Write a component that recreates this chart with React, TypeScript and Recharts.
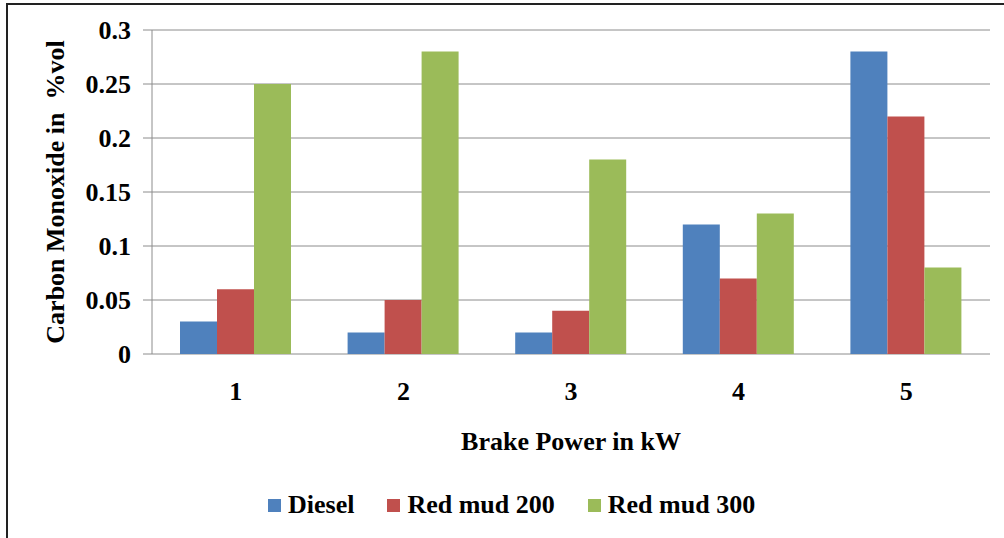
import { Bar, BarChart, CartesianGrid, Label, Legend, XAxis, YAxis } from "recharts";

const loads = ["1", "2", "3", "4", "5"];
const diesel = [0.03, 0.02, 0.02, 0.12, 0.28];
const redMud200 = [0.06, 0.05, 0.04, 0.07, 0.22];
const redMud300 = [0.25, 0.28, 0.18, 0.13, 0.08];
const yTicks = [0, 0.05, 0.1, 0.15, 0.2, 0.25, 0.3];
const edgeTicks = [0, 1, 2, 3, 4, 5];

const data = loads.map((kw, i) => ({
  kw,
  diesel: diesel[i],
  rm200: redMud200[i],
  rm300: redMud300[i],
}));

const series = [
  { dataKey: "diesel", name: "Diesel", color: "#4F81BD" },
  { dataKey: "rm200", name: "Red mud 200", color: "#C0504D" },
  { dataKey: "rm300", name: "Red mud 300", color: "#9BBB59" },
];

const FONT = "Liberation Serif, Times New Roman, DejaVu Serif, serif";
const GRID = "#8c8c8c";

function LegendItems() {
  return (
    <div style={{ display: "flex", alignItems: "center", height: 34, paddingLeft: 268 }}>
      {series.map((s) => (
        <div key={s.dataKey} style={{ display: "flex", alignItems: "center", marginRight: 33 }}>
          <span style={{ width: 13, height: 13, background: s.color, marginRight: 7, display: "inline-block" }} />
          <span style={{ fontFamily: FONT, fontWeight: "bold", fontSize: 26, color: "#000" }}>{s.name}</span>
        </div>
      ))}
    </div>
  );
}

export default function App() {
  return (
    <div style={{ position: "absolute", left: 0, top: 0, width: 1004, height: 538, background: "#fff", fontFamily: FONT }}>
      <div
        style={{
          position: "absolute",
          left: 6,
          top: 3,
          width: 998,
          height: 535,
          borderTop: "2px solid #222",
          borderLeft: "2px solid #222",
        }}
      />
      <BarChart
        width={1004}
        height={538}
        data={data}
        margin={{ top: 30, right: 14, left: 52, bottom: 50 }}
        barSize={37}
        barGap={0}
        style={{ position: "absolute", left: 0, top: 0, fontFamily: FONT }}
      >
        <CartesianGrid stroke={GRID} vertical={false} yAxisId="main" xAxisId="cat" />
        <XAxis
          xAxisId="edges"
          type="number"
          domain={[0, 5]}
          ticks={edgeTicks}
          tick={false}
          tickSize={9}
          height={0}
          axisLine={{ stroke: GRID }}
          tickLine={{ stroke: GRID }}
        />
        <XAxis
          xAxisId="cat"
          dataKey="kw"
          height={100}
          axisLine={false}
          tickLine={false}
          tickSize={8}
          tickMargin={20}
          tick={{ fill: "#000", fontSize: 26, fontWeight: "bold", fontFamily: FONT }}
        >
          <Label
            content={({ viewBox }: any) => (
              <text
                x={viewBox.x + viewBox.width / 2}
                y={viewBox.y + 96}
                textAnchor="middle"
                fontFamily={FONT}
                fontWeight="bold"
                fontSize={26}
                fill="#000"
              >
                Brake Power in kW
              </text>
            )}
          />
        </XAxis>
        <YAxis
          yAxisId="main"
          domain={[0, 0.3]}
          ticks={yTicks}
          width={100}
          tickSize={9}
          tickMargin={12}
          axisLine={{ stroke: GRID }}
          tickLine={{ stroke: GRID }}
          tickFormatter={(v) => String(v)}
          tick={{ fill: "#000", fontSize: 26, fontWeight: "bold", fontFamily: FONT }}
        >
          <Label
            content={({ viewBox }: any) => {
              const cx = viewBox.x + 3;
              const cy = viewBox.y + viewBox.height / 2;
              return (
                <text
                  x={cx}
                  y={cy}
                  transform={`rotate(-90 ${cx} ${cy})`}
                  textAnchor="middle"
                  dominantBaseline="central"
                  fontFamily={FONT}
                  fontWeight="bold"
                  fontSize={26}
                  fill="#000"
                  style={{ whiteSpace: "pre" }}
                >
                  {"Carbon Monoxide in  %vol"}
                </text>
              );
            }}
          />
        </YAxis>
        <YAxis
          yAxisId="right"
          orientation="right"
          domain={[0, 0.3]}
          width={0}
          tick={false}
          tickLine={false}
          axisLine={{ stroke: GRID }}
        />
        <Legend
          verticalAlign="bottom"
          wrapperStyle={{ top: 488, left: 0, width: 1004, height: 34, bottom: "auto" }}
          content={() => <LegendItems />}
        />
        {series.map((s) => (
          <Bar
            key={s.dataKey}
            xAxisId="cat"
            yAxisId="main"
            dataKey={s.dataKey}
            name={s.name}
            fill={s.color}
            isAnimationActive={false}
          />
        ))}
      </BarChart>
    </div>
  );
}
